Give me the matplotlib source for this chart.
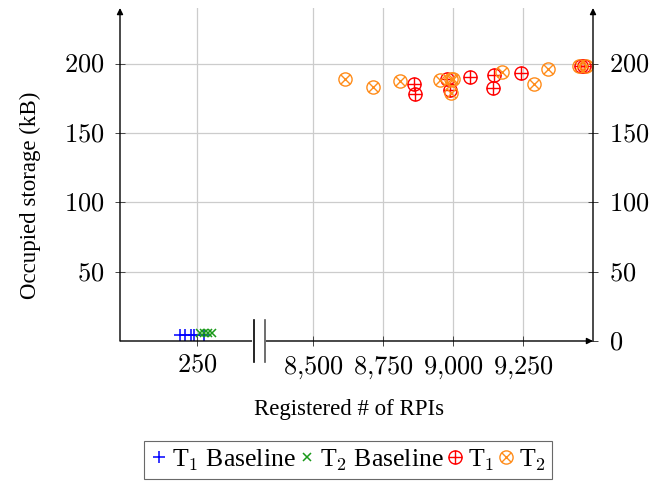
import matplotlib
matplotlib.use("Agg")
import matplotlib.pyplot as plt
from matplotlib.path import Path
from matplotlib.lines import Line2D
from matplotlib.ticker import FuncFormatter

plt.rcParams['font.family'] = ['Liberation Serif', 'DejaVu Serif']
plt.rcParams['mathtext.fontset'] = 'cm'

# data (registered RPIs, occupied storage kB)
t1_base_x = [226, 233, 241, 246, 260]
t1_base_y = [4.3, 4.3, 4.3, 4.3, 4.3]
t2_base_x = [254, 260, 266, 271]
t2_base_y = [5.5, 5.5, 5.5, 5.5]

t1_x = [8861, 8864, 8980, 8989, 9062, 9146, 9142, 9242, 9456, 9468]
t1_y = [185.4, 177.7, 188.5, 180.6, 190.6, 192.0, 182.2, 193.5, 198.5, 198.5]
t2_x = [8614, 8713, 8811, 8954, 8992, 8992, 9000, 9174, 9289, 9340, 9451, 9475]
t2_y = [189.0, 183.0, 187.3, 187.8, 188.5, 179.0, 189.0, 194.2, 185.4, 196.0, 198.5, 198.5]

left_ticks = [250]
right_ticks = [8500, 8750, 9000, 9250]
y_ticks = [0, 50, 100, 150, 200]

# circle-plus / circle-times markers
circ = Path.unit_circle()
plus = Path([(-1, 0), (1, 0), (0, -1), (0, 1)],
            [Path.MOVETO, Path.LINETO, Path.MOVETO, Path.LINETO])
d = 0.7071
cross = Path([(-d, -d), (d, d), (-d, d), (d, -d)],
             [Path.MOVETO, Path.LINETO, Path.MOVETO, Path.LINETO])
oplus = Path.make_compound_path(circ, plus)
otimes = Path.make_compound_path(circ, cross)

W, H = 664, 483
fig = plt.figure(figsize=(W / 100, H / 100), dpi=100)
bot = 1 - 341 / H
hgt = (341 - 8) / H
axL = fig.add_axes([120 / W, bot, (259 - 120) / W, hgt])
axR = fig.add_axes([259 / W, bot, (593 - 259) / W, hgt])

blue, green, red, orange = '#0000ff', '#1a9a1a', '#ff0000', '#ff8c1a'

hb, = axL.plot(t1_base_x, t1_base_y, ls='none', marker='+', ms=8, mew=1.1, color=blue, clip_on=False)
hg, = axL.plot(t2_base_x, t2_base_y, ls='none', marker='x', ms=6, mew=1.1, color=green, clip_on=False)
hr, = axR.plot(t1_x, t1_y, ls='none', marker=oplus, ms=9.5, mew=1.0, mfc='none', color=red)
ho, = axR.plot(t2_x, t2_y, ls='none', marker=otimes, ms=9.5, mew=1.0, mfc='none', color=orange)

for ax in (axL, axR):
    ax.set_ylim(0, 240)
    ax.set_facecolor('none')
    ax.grid(True, color='#cccccc', lw=0.9)
    ax.set_axisbelow(True)
    for s in ax.spines.values():
        s.set_visible(False)
    ax.tick_params(direction='inout', length=7, width=0.7, color='#444444', labelsize=19, pad=6)

fmt = FuncFormatter(lambda v, p: r'$%s$' % format(int(v), ',').replace(',', '{,}'))

axL.set_xlim(140, 338.6)
axL.set_xticks(left_ticks)
axL.set_yticks(y_ticks[1:])
axL.xaxis.set_major_formatter(fmt)
axL.yaxis.set_major_formatter(fmt)
axL.tick_params(axis='y', pad=8)

axR.set_xlim(8307, 9500)
axR.set_xticks(right_ticks)
axR.set_yticks(y_ticks)
axR.xaxis.set_major_formatter(fmt)
axR.yaxis.set_major_formatter(fmt)
axR.yaxis.tick_right()
axR.tick_params(axis='y', left=False, right=True, labelleft=False, labelright=True, pad=8)

arrow = dict(arrowstyle='-|>', lw=1.0, color='black', mutation_scale=9, shrinkA=0, shrinkB=0)
axL.annotate('', xy=(0, 1), xytext=(0, 0), xycoords='axes fraction', arrowprops=arrow)
axR.annotate('', xy=(1, 1), xytext=(1, 0), xycoords='axes fraction', arrowprops=arrow)
axR.annotate('', xy=(1, 0), xytext=(-0.415, 0), xycoords='axes fraction', arrowprops=arrow)

# axis break marks
fig.add_artist(Line2D([259 / W, 259 / W], [1 - 339 / H, 1 - 343 / H], color='white', lw=10))
for xp, c in ((254, 'black'), (265, '#555555')):
    fig.add_artist(Line2D([xp / W, xp / W], [1 - 320 / H, 1 - 362 / H], color=c, lw=1.2))

fig.text(349 / W, 1 - 410 / H, 'Registered # of RPIs', ha='center', va='center', fontsize=16.5)
fig.text(30 / W, 1 - 195 / H, 'Occupied storage (kB)', ha='center', va='center', rotation=90, fontsize=16.5)

leg = fig.legend([hb, hg, hr, ho],
                 ['T$_1$ Baseline', 'T$_2$ Baseline', 'T$_1$', 'T$_2$'],
                 loc='center', bbox_to_anchor=(348 / W, 1 - 460 / H), ncol=4,
                 numpoints=1, handlelength=0.7, handletextpad=0.15, columnspacing=0.1,
                 borderpad=0.25, fontsize=18.5, fancybox=False, edgecolor='#444444')
leg.get_frame().set_linewidth(0.8)

fig.savefig('out.png', dpi=100)
